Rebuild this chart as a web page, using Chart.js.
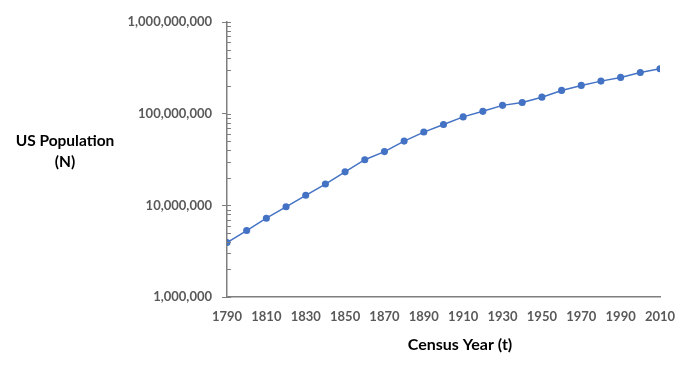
<!DOCTYPE html>
<html>
<head>
<meta charset="utf-8">
<script src="https://cdn.jsdelivr.net/npm/chart.js@4"></script>
<style>
  html, body { margin: 0; padding: 0; background: #fff; }
  #wrap { width: 695px; height: 365px; position: relative; }
</style>
</head>
<body>
<div id="wrap"><canvas id="popChart"></canvas></div>
<script>
// census data
const censusYears = [1790, 1800, 1810, 1820, 1830, 1840, 1850, 1860, 1870, 1880, 1890, 1900,
    1910, 1920, 1930, 1940, 1950, 1960, 1970, 1980, 1990, 2000, 2010];
const population = [3929000, 5308000, 7240000, 9638000, 12866000, 17069000, 23192000, 31443000,
    38558000, 50189000, 62980000, 76212000, 92228000, 106022000, 123203000, 132165000,
    151326000, 179323000, 203302000, 226542000, 248710000, 281422000, 308746000];
const yTickValues = [1000000, 10000000, 100000000, 1000000000];
const yAxisTitle = ['US Population', '(N)'];
const xAxisTitle = 'Census Year (t)';

const FONT = 'Lato, "Open Sans", sans-serif';
const axisGray = '#7f7f7f';
const labelGray = '#595959';

// minor ticks on the log axis + both axis titles (they sit off-centre in the original)
const extrasPlugin = {
    id: 'extras',
    afterDraw(chart) {
        const ctx = chart.ctx;
        const y = chart.scales.y;
        const x0 = y.right;
        ctx.save();
        ctx.strokeStyle = axisGray;
        ctx.lineWidth = 1;
        ctx.beginPath();
        for (let p = 6; p <= 9; p++) {
            for (let m = 1; m <= 9; m++) {
                if (p === 9 && m > 1) break;
                const py = Math.round(y.getPixelForValue(m * Math.pow(10, p))) + 0.5;
                ctx.moveTo(x0, py);
                ctx.lineTo(x0 + 4, py);
            }
        }
        ctx.stroke();

        ctx.fillStyle = '#000';
        ctx.textAlign = 'center';
        ctx.textBaseline = 'middle';
        ctx.font = 'bold 15.5px ' + FONT;
        ctx.fillText(yAxisTitle[0], 65, 141);
        ctx.fillText(yAxisTitle[1], 65, 162);
        ctx.font = 'bold 16px ' + FONT;
        ctx.fillText(xAxisTitle, 460, 345);
        ctx.restore();
    }
};

let ctx = document.getElementById('popChart').getContext('2d');
let popChart = new Chart(ctx, {
    type: 'line',
    data: {
        datasets: [{
            data: censusYears.map((yr, i) => ({ x: yr, y: population[i] })),
            borderColor: '#4472c4',
            backgroundColor: '#4472c4',
            pointBorderColor: '#4472c4',
            borderWidth: 1.5,
            pointRadius: 2.8,
            tension: 0
        }]
    },
    options: {
        responsive: true,
        maintainAspectRatio: false,
        animation: false,
        layout: {
            padding: { top: 22, right: 35, bottom: 0, left: 0 }
        },
        plugins: {
            legend: { display: false },
            tooltip: { enabled: false }
        },
        scales: {
            x: {
                type: 'linear',
                min: 1790,
                max: 2010,
                afterFit: function(scale) { scale.height = 68; },
                grid: { drawOnChartArea: false, drawTicks: false },
                border: { display: true, color: axisGray, width: 1.5 },
                ticks: {
                    stepSize: 20,
                    padding: 12,
                    color: labelGray,
                    font: { family: FONT, size: 13, weight: 'bold' },
                    callback: v => String(v)
                }
            },
            y: {
                type: 'logarithmic',
                min: 1000000,
                max: 1000000000,
                afterFit: function(scale) { scale.width = 227; },
                afterBuildTicks: function(scale) {
                    scale.ticks = yTickValues.map(v => ({ value: v }));
                },
                grid: { drawOnChartArea: false, tickLength: 5, color: axisGray },
                border: { display: true, color: axisGray, width: 1.5 },
                ticks: {
                    padding: 10,
                    color: labelGray,
                    font: { family: FONT, size: 13, weight: 'bold' },
                    callback: v => Number(v).toLocaleString('en-US')
                }
            }
        }
    },
    plugins: [extrasPlugin]
});
</script>
</body>
</html>
